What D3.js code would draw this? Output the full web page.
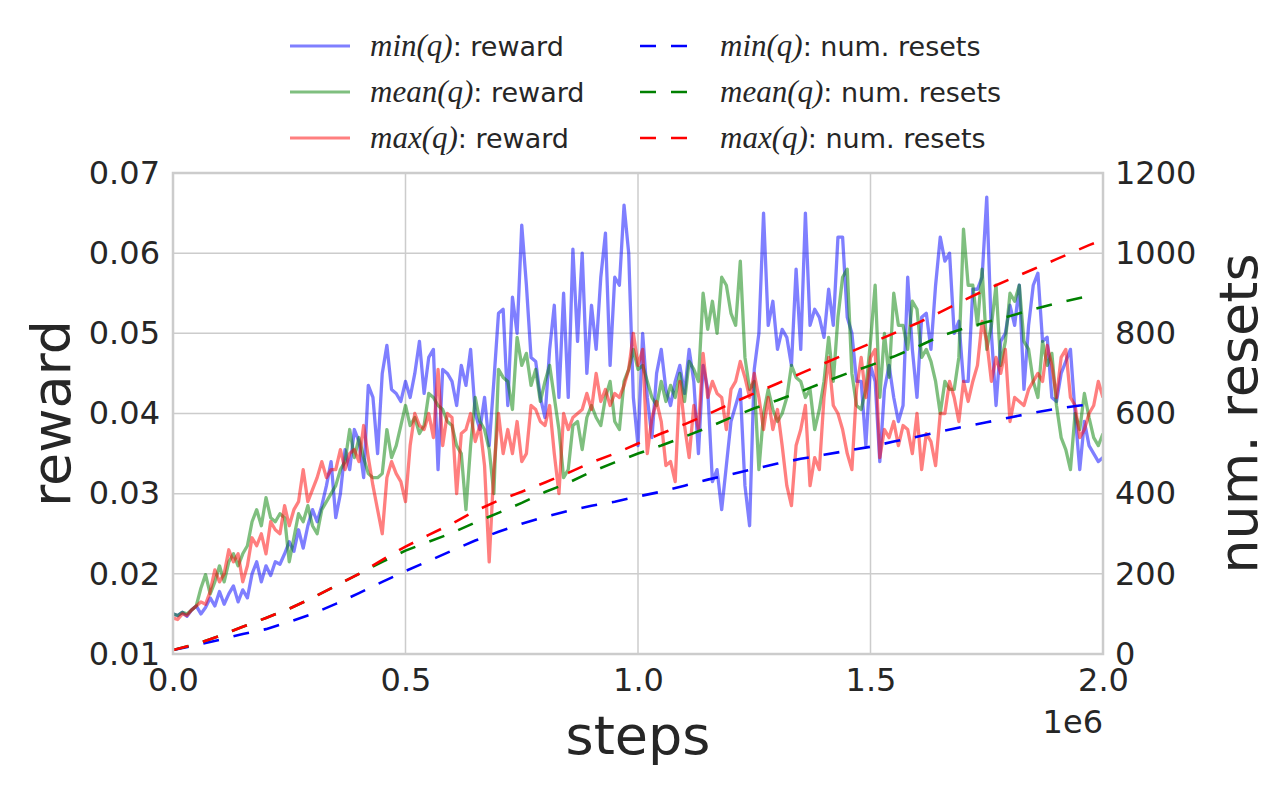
<!DOCTYPE html>
<html>
<head>
<meta charset="utf-8">
<script src="https://cdn.jsdelivr.net/npm/d3@7"></script>
<style>
  body { margin: 0; background: #fff; }
  text { font-family: "DejaVu Sans", sans-serif; fill: #262626; }
</style>
</head>
<body>
<svg id="chart" width="1287" height="786"></svg>
<script>
// sampling grid of the reward curves (every 10k steps)
var steps = d3.range(0, 2000001, 10000);

var rewardMin = [
  0.0150, 0.0148, 0.0152, 0.0147, 0.0155, 0.0160, 0.0150, 0.0158, 0.0170, 0.0160,
  0.0178, 0.0162, 0.0175, 0.0185, 0.0165, 0.0180, 0.0170, 0.0200, 0.0215, 0.0190,
  0.0210, 0.0198, 0.0215, 0.0212, 0.0225, 0.0240, 0.0228, 0.0255, 0.0232, 0.0260,
  0.0280, 0.0265, 0.0285, 0.0310, 0.0340, 0.0270, 0.0300, 0.0355, 0.0330, 0.0380,
  0.0365, 0.0320, 0.0435, 0.0420, 0.0350, 0.0450, 0.0485, 0.0430, 0.0425, 0.0415,
  0.0440, 0.0420, 0.0450, 0.0490, 0.0425, 0.0470, 0.0480, 0.0330, 0.0455, 0.0450,
  0.0440, 0.0410, 0.0460, 0.0435, 0.0480, 0.0400, 0.0380, 0.0420, 0.0360, 0.0440,
  0.0525, 0.0530, 0.0410, 0.0545, 0.0500, 0.0635, 0.0560, 0.0470, 0.0465, 0.0420,
  0.0395, 0.0480, 0.0535, 0.0420, 0.0550, 0.0420, 0.0605, 0.0490, 0.0600, 0.0450,
  0.0535, 0.0480, 0.0570, 0.0625, 0.0460, 0.0570, 0.0560, 0.0660, 0.0600, 0.0420,
  0.0360, 0.0500, 0.0420, 0.0370, 0.0450, 0.0480, 0.0430, 0.0410, 0.0440, 0.0460,
  0.0425, 0.0480, 0.0440, 0.0350, 0.0460, 0.0430, 0.0315, 0.0330, 0.0280, 0.0335,
  0.0390, 0.0410, 0.0430, 0.0310, 0.0260, 0.0455, 0.0500, 0.0650, 0.0510, 0.0540,
  0.0480, 0.0505, 0.0495, 0.0460, 0.0580, 0.0480, 0.0650, 0.0510, 0.0530, 0.0520,
  0.0495, 0.0555, 0.0510, 0.0620, 0.0620, 0.0520, 0.0500, 0.0440, 0.0440, 0.0360,
  0.0460, 0.0440, 0.0340, 0.0430, 0.0460, 0.0420, 0.0390, 0.0410, 0.0570, 0.0480,
  0.0420, 0.0520, 0.0525, 0.0480, 0.0560, 0.0620, 0.0590, 0.0600, 0.0500, 0.0515,
  0.0440, 0.0440, 0.0555, 0.0555, 0.0570, 0.0670, 0.0500, 0.0410, 0.0490, 0.0500,
  0.0535, 0.0510, 0.0560, 0.0430, 0.0510, 0.0560, 0.0575, 0.0490, 0.0495, 0.0420,
  0.0415, 0.0450, 0.0465, 0.0480, 0.0400, 0.0330, 0.0390, 0.0360, 0.0350, 0.0340,
  0.0345
];

var rewardMean = [
  0.0150, 0.0148, 0.0152, 0.0150, 0.0155, 0.0160, 0.0182, 0.0199, 0.0175, 0.0190,
  0.0210, 0.0190, 0.0215, 0.0225, 0.0210, 0.0225, 0.0235, 0.0265, 0.0280, 0.0260,
  0.0295, 0.0270, 0.0265, 0.0275, 0.0270, 0.0215, 0.0245, 0.0275, 0.0265, 0.0285,
  0.0260, 0.0250, 0.0280, 0.0290, 0.0300, 0.0310, 0.0330, 0.0340, 0.0380, 0.0345,
  0.0370, 0.0345, 0.0325, 0.0320, 0.0320, 0.0325, 0.0380, 0.0345, 0.0360, 0.0385,
  0.0410, 0.0385, 0.0395, 0.0375, 0.0385, 0.0425, 0.0420, 0.0410, 0.0405, 0.0390,
  0.0385, 0.0360, 0.0350, 0.0280, 0.0360, 0.0420, 0.0390, 0.0380, 0.0355, 0.0300,
  0.0455, 0.0445, 0.0440, 0.0405, 0.0495, 0.0460, 0.0475, 0.0435, 0.0455, 0.0415,
  0.0440, 0.0460, 0.0420, 0.0380, 0.0320, 0.0330, 0.0385, 0.0390, 0.0355, 0.0395,
  0.0410, 0.0395, 0.0385, 0.0420, 0.0440, 0.0390, 0.0380, 0.0440, 0.0455, 0.0480,
  0.0455, 0.0460, 0.0440, 0.0420, 0.0410, 0.0440, 0.0415, 0.0435, 0.0420, 0.0450,
  0.0415, 0.0465, 0.0455, 0.0440, 0.0550, 0.0505, 0.0540, 0.0500, 0.0570, 0.0560,
  0.0525, 0.0510, 0.0590, 0.0470, 0.0430, 0.0440, 0.0330, 0.0400, 0.0430, 0.0405,
  0.0390, 0.0400, 0.0420, 0.0460, 0.0445, 0.0440, 0.0420, 0.0430, 0.0380, 0.0405,
  0.0440, 0.0495, 0.0440, 0.0520, 0.0570, 0.0580, 0.0450, 0.0410, 0.0405, 0.0430,
  0.0490, 0.0560, 0.0420, 0.0500, 0.0445, 0.0550, 0.0510, 0.0510, 0.0480, 0.0540,
  0.0530, 0.0470, 0.0480, 0.0465, 0.0440, 0.0400, 0.0440, 0.0430, 0.0430, 0.0470,
  0.0630, 0.0560, 0.0560, 0.0510, 0.0580, 0.0480, 0.0510, 0.0560, 0.0460, 0.0490,
  0.0550, 0.0540, 0.0560, 0.0490, 0.0480, 0.0440, 0.0420, 0.0490, 0.0460, 0.0475,
  0.0410, 0.0370, 0.0355, 0.0330, 0.0400, 0.0380, 0.0425, 0.0395, 0.0370, 0.0360,
  0.0375
];

var rewardMax = [
  0.0145, 0.0143, 0.0150, 0.0148, 0.0155, 0.0160, 0.0165, 0.0162, 0.0178, 0.0205,
  0.0190, 0.0200, 0.0230, 0.0215, 0.0225, 0.0190, 0.0210, 0.0245, 0.0235, 0.0250,
  0.0225, 0.0265, 0.0255, 0.0250, 0.0285, 0.0260, 0.0280, 0.0290, 0.0330, 0.0290,
  0.0305, 0.0320, 0.0340, 0.0320, 0.0330, 0.0330, 0.0355, 0.0330, 0.0350, 0.0355,
  0.0340, 0.0385, 0.0345, 0.0310, 0.0280, 0.0250, 0.0320, 0.0340, 0.0325, 0.0315,
  0.0290, 0.0360, 0.0400, 0.0385, 0.0380, 0.0400, 0.0370, 0.0455, 0.0360, 0.0400,
  0.0395, 0.0300, 0.0375, 0.0380, 0.0400, 0.0365, 0.0385, 0.0335, 0.0215, 0.0330,
  0.0400, 0.0350, 0.0380, 0.0350, 0.0390, 0.0340, 0.0350, 0.0410, 0.0405, 0.0390,
  0.0385, 0.0410, 0.0350, 0.0300, 0.0400, 0.0380, 0.0395, 0.0400, 0.0405, 0.0425,
  0.0405, 0.0450, 0.0415, 0.0430, 0.0410, 0.0425, 0.0420, 0.0435, 0.0455, 0.0500,
  0.0460, 0.0480, 0.0350, 0.0395, 0.0415, 0.0390, 0.0335, 0.0340, 0.0315, 0.0440,
  0.0385, 0.0345, 0.0410, 0.0380, 0.0475, 0.0420, 0.0440, 0.0425, 0.0420, 0.0380,
  0.0430, 0.0440, 0.0465, 0.0445, 0.0420, 0.0450, 0.0420, 0.0380, 0.0420, 0.0380,
  0.0405, 0.0360, 0.0310, 0.0285, 0.0360, 0.0380, 0.0410, 0.0310, 0.0345, 0.0330,
  0.0420, 0.0470, 0.0410, 0.0400, 0.0380, 0.0350, 0.0330, 0.0430, 0.0470, 0.0420,
  0.0470, 0.0480, 0.0345, 0.0380, 0.0370, 0.0390, 0.0360, 0.0385, 0.0380, 0.0350,
  0.0400, 0.0330, 0.0375, 0.0365, 0.0335, 0.0400, 0.0400, 0.0440, 0.0420, 0.0390,
  0.0440, 0.0415, 0.0440, 0.0460, 0.0515, 0.0490, 0.0440, 0.0470, 0.0450, 0.0480,
  0.0390, 0.0420, 0.0415, 0.0410, 0.0430, 0.0440, 0.0450, 0.0440, 0.0485, 0.0460,
  0.0420, 0.0470, 0.0480, 0.0420, 0.0410, 0.0370, 0.0380, 0.0400, 0.0410, 0.0440,
  0.0420
];

// resets are smooth, read every 50k steps
var resetSteps = [
  0, 50000, 100000, 150000, 200000, 250000, 300000, 350000, 400000, 450000,
  500000, 550000, 600000, 650000, 700000, 750000, 800000, 850000, 900000, 950000,
  1000000, 1050000, 1100000, 1150000, 1200000, 1250000, 1300000, 1350000, 1400000, 1450000,
  1500000, 1550000, 1600000, 1650000, 1700000, 1750000, 1800000, 1850000, 1900000, 1950000,
  1970000, 2000000
];
var resetsMin = [10, 22, 35, 50, 62, 80, 100, 125, 152, 180, 207, 232, 258, 283, 305, 325, 342, 357, 370, 380,
  393, 405, 420, 435, 448, 462, 475, 487, 497, 507, 517, 530, 542, 555, 567, 578, 590, 602, 612, 620, 622];
var resetsMean = [10, 25, 45, 68, 90, 113, 140, 170, 200, 230, 258, 280, 302, 328, 352, 377, 404, 427, 455, 478,
  500, 520, 542, 565, 590, 613, 633, 655, 678, 700, 720, 742, 766, 793, 812, 828, 843, 860, 875, 888, 893];
var resetsMax = [10, 25, 45, 68, 90, 113, 140, 170, 200, 235, 268, 297, 325, 357, 383, 405, 428, 452, 478, 500,
  525, 550, 573, 598, 625, 650, 675, 700, 725, 750, 775, 800, 825, 853, 882, 910, 935, 960, 985, 1010, 1020, 1033];

var xTicks = [0, 500000, 1000000, 1500000, 2000000];
var yTicks = [0.01, 0.02, 0.03, 0.04, 0.05, 0.06, 0.07];
var y2Ticks = [0, 200, 400, 600, 800, 1000, 1200];

var rewardSeries = [
  {name: "min(q)", values: rewardMin, color: "#0000ff"},
  {name: "mean(q)", values: rewardMean, color: "#008000"},
  {name: "max(q)", values: rewardMax, color: "#ff0000"}
];
var resetSeries = [
  {name: "min(q)", values: resetsMin, color: "#0000ff"},
  {name: "mean(q)", values: resetsMean, color: "#008000"},
  {name: "max(q)", values: resetsMax, color: "#ff0000"}
];

var plotLeft = 173, plotRight = 1103, plotTop = 173, plotBottom = 654;

var svg = d3.select("#chart");

var x = d3.scaleLinear().domain([0, 2000000]).range([plotLeft, plotRight]);
var y = d3.scaleLinear().domain([0.01, 0.07]).range([plotBottom, plotTop]);
var y2 = d3.scaleLinear().domain([0, 1200]).range([plotBottom, plotTop]);

svg.append("defs").append("clipPath").attr("id", "plotclip")
    .append("rect")
    .attr("x", plotLeft).attr("y", plotTop)
    .attr("width", plotRight - plotLeft).attr("height", plotBottom - plotTop);

// grid
var grid = svg.append("g");
grid.selectAll(".gx")
    .data(xTicks.slice(1, -1))
    .join("line")
    .attr("x1", d => x(d)).attr("x2", d => x(d))
    .attr("y1", plotTop).attr("y2", plotBottom)
    .attr("stroke", "#cccccc").attr("stroke-width", 1.5);
grid.selectAll(".gy")
    .data(yTicks.slice(1, -1))
    .join("line")
    .attr("y1", d => y(d)).attr("y2", d => y(d))
    .attr("x1", plotLeft).attr("x2", plotRight)
    .attr("stroke", "#cccccc").attr("stroke-width", 1.5);

// curves
var plot = svg.append("g").attr("clip-path", "url(#plotclip)");

var rewardLine = d3.line()
    .x((d, i) => x(steps[i]))
    .y(d => y(d));

plot.selectAll(".reward")
    .data(rewardSeries)
    .join("path")
    .attr("d", d => rewardLine(d.values))
    .attr("fill", "none")
    .attr("stroke", d => d.color)
    .attr("stroke-opacity", 0.5)
    .attr("stroke-width", 3.3)
    .attr("stroke-linejoin", "round");

var resetLine = d3.line()
    .x((d, i) => x(resetSteps[i]))
    .y(d => y2(d));

plot.selectAll(".resets")
    .data(resetSeries)
    .join("path")
    .attr("d", d => resetLine(d.values))
    .attr("fill", "none")
    .attr("stroke", d => d.color)
    .attr("stroke-width", 2.6)
    .attr("stroke-dasharray", "16,15");

// frame
svg.append("rect")
    .attr("x", plotLeft).attr("y", plotTop)
    .attr("width", plotRight - plotLeft).attr("height", plotBottom - plotTop)
    .attr("fill", "none")
    .attr("stroke", "#cccccc")
    .attr("stroke-width", 2.5);

// axes
var fmt2 = d3.format(".2f");

svg.append("g")
    .attr("transform", "translate(" + plotLeft + ",0)")
    .call(d3.axisLeft(y).tickValues(yTicks).tickFormat(fmt2).tickSize(0).tickPadding(13))
    .call(g => g.select(".domain").remove())
    .selectAll("text")
    .style("font", "32px 'DejaVu Sans'")
    .attr("fill", "#262626");

svg.append("g")
    .attr("transform", "translate(" + plotRight + ",0)")
    .call(d3.axisRight(y2).tickValues(y2Ticks).tickFormat(d3.format("d")).tickSize(0).tickPadding(12))
    .call(g => g.select(".domain").remove())
    .selectAll("text")
    .style("font", "32px 'DejaVu Sans'")
    .attr("fill", "#262626");

svg.append("g")
    .attr("transform", "translate(0," + plotBottom + ")")
    .call(d3.axisBottom(x).tickValues(xTicks).tickFormat(d => (d / 1e6).toFixed(1)).tickSize(0).tickPadding(14))
    .call(g => g.select(".domain").remove())
    .selectAll("text")
    .style("font", "32px 'DejaVu Sans'")
    .attr("fill", "#262626");

svg.append("text")
    .attr("x", plotRight).attr("y", 733)
    .attr("text-anchor", "end")
    .style("font-size", "32px")
    .text("1e6");

// axis labels
svg.append("text")
    .attr("x", (plotLeft + plotRight) / 2).attr("y", 754)
    .attr("text-anchor", "middle")
    .style("font-size", "54px")
    .text("steps");

svg.append("text")
    .attr("transform", "translate(70," + (plotTop + plotBottom) / 2 + ") rotate(-90)")
    .attr("text-anchor", "middle")
    .style("font-size", "54px")
    .text("reward");

svg.append("text")
    .attr("transform", "translate(1257," + (plotTop + plotBottom) / 2 + ") rotate(-90)")
    .attr("text-anchor", "middle")
    .style("font-size", "54px")
    .text("num. resets");

// legend
var rowY = [46, 92, 138];
var legend = svg.append("g");

rewardSeries.forEach(function (s, i) {
    legend.append("line")
        .attr("x1", 290).attr("x2", 350)
        .attr("y1", rowY[i]).attr("y2", rowY[i])
        .attr("stroke", s.color).attr("stroke-opacity", 0.5)
        .attr("stroke-width", 3);
    var t = legend.append("text")
        .attr("x", 370).attr("y", rowY[i] + 10)
        .style("font-size", "27px");
    t.append("tspan")
        .style("font-family", "'Liberation Serif', serif")
        .style("font-style", "italic")
        .style("font-size", "31px")
        .text(s.name);
    t.append("tspan").text(": reward");
});

resetSeries.forEach(function (s, i) {
    legend.append("line")
        .attr("x1", 640).attr("x2", 700)
        .attr("y1", rowY[i]).attr("y2", rowY[i])
        .attr("stroke", s.color)
        .attr("stroke-width", 2.6)
        .attr("stroke-dasharray", "16,15");
    var t = legend.append("text")
        .attr("x", 720).attr("y", rowY[i] + 10)
        .style("font-size", "27px");
    t.append("tspan")
        .style("font-family", "'Liberation Serif', serif")
        .style("font-style", "italic")
        .style("font-size", "31px")
        .text(s.name);
    t.append("tspan").text(": num. resets");
});
</script>
</body>
</html>
